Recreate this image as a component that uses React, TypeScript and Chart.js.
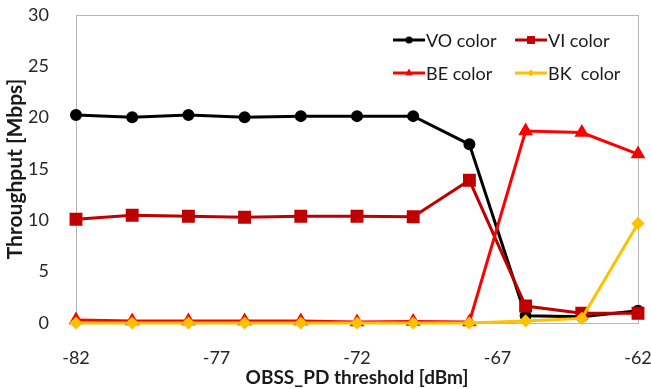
import React, { useEffect, useRef } from 'react';
import { Chart, registerables } from 'chart.js';

Chart.register(...registerables);

const thresholds = [-82, -80, -78, -76, -74, -72, -70, -68, -66, -64, -62];
const xTickValues = [-82, -77, -72, -67, -62];
const yTickStep = 5;
const voColor = [20.25, 20.05, 20.25, 20.05, 20.15, 20.15, 20.15, 17.4, 0.7, 0.6, 1.2];
const viColor = [10.1, 10.5, 10.4, 10.3, 10.4, 10.4, 10.35, 13.9, 1.65, 0.95, 0.95];
const beColor = [0.3, 0.2, 0.2, 0.2, 0.2, 0.1, 0.15, 0.1, 18.7, 18.55, 16.45];
const bkColor = [0, 0, 0, 0, 0, 0, 0, 0, 0.2, 0.45, 9.7];
const seriesNames = ['VO color', 'VI color', 'BE color', 'BK  color'];
const xTitle = 'OBSS_PD threshold [dBm]';
const yTitle = 'Throughput [Mbps]';

const FONT = "Lato, 'Open Sans', sans-serif";

function drawMarker(ctx: CanvasRenderingContext2D, style: string, x: number, y: number, r: number, color: string) {
  ctx.save();
  ctx.fillStyle = color;
  ctx.beginPath();
  if (style === 'circle') {
    ctx.arc(x, y, r, 0, Math.PI * 2);
  } else if (style === 'rect') {
    const s = Math.SQRT1_2 * r;
    ctx.rect(x - s, y - s, 2 * s, 2 * s);
  } else if (style === 'triangle') {
    let a = 0;
    ctx.moveTo(x + Math.sin(a) * r, y - Math.cos(a) * r);
    a += (2 * Math.PI) / 3;
    ctx.lineTo(x + Math.sin(a) * r, y - Math.cos(a) * r);
    a += (2 * Math.PI) / 3;
    ctx.lineTo(x + Math.sin(a) * r, y - Math.cos(a) * r);
  } else {
    ctx.moveTo(x - r, y);
    ctx.lineTo(x, y - r);
    ctx.lineTo(x + r, y);
    ctx.lineTo(x, y + r);
  }
  ctx.closePath();
  ctx.fill();
  ctx.restore();
}

const framePlugin = {
  id: 'frame',
  beforeDatasetsDraw(chart: any) {
    const { ctx, chartArea } = chart;
    ctx.save();
    ctx.strokeStyle = '#b7b7b7';
    ctx.lineWidth = 1;
    ctx.strokeRect(
      Math.round(chartArea.left) + 0.5,
      Math.round(chartArea.top) + 0.5,
      Math.round(chartArea.right - chartArea.left),
      Math.round(chartArea.bottom - chartArea.top)
    );
    ctx.restore();
  },
};

const legendPlugin = {
  id: 'insideLegend',
  afterDraw(chart: any) {
    const { ctx, chartArea } = chart;
    const colX = [chartArea.right - 245, chartArea.right - 123];
    const rowY = [chartArea.top + 25, chartArea.top + 58];
    ctx.save();
    ctx.font = `18px ${FONT}`;
    ctx.textBaseline = 'middle';
    ctx.textAlign = 'left';
    chart.data.datasets.forEach((ds: any, i: number) => {
      const x0 = colX[i % 2];
      const y = rowY[Math.floor(i / 2)];
      const lineLen = 32;
      ctx.strokeStyle = ds.borderColor;
      ctx.lineWidth = 3;
      ctx.beginPath();
      ctx.moveTo(x0, y);
      ctx.lineTo(x0 + lineLen, y);
      ctx.stroke();
      drawMarker(ctx, ds.pointStyle, x0 + lineLen / 2, y, ds.pointRadius * 0.8, ds.backgroundColor);
      ctx.fillStyle = '#1a1a1a';
      ctx.fillText(ds.label, x0 + lineLen + 1, y + 1);
    });
    ctx.restore();
  },
};

export default function App() {
  const canvasRef = useRef<HTMLCanvasElement | null>(null);

  useEffect(() => {
    if (!canvasRef.current) return;
    const mk = (data: number[]) => thresholds.map((x, i) => ({ x, y: data[i] }));
    const chart = new Chart(canvasRef.current, {
      type: 'line',
      data: {
        datasets: [
          {
            label: seriesNames[0],
            data: mk(voColor),
            borderColor: '#000000',
            backgroundColor: '#000000',
            pointStyle: 'circle',
            pointRadius: 4.5,
            borderWidth: 3,
            order: 4,
            clip: false,
          },
          {
            label: seriesNames[1],
            data: mk(viColor),
            borderColor: '#c00000',
            backgroundColor: '#c00000',
            pointStyle: 'rect',
            pointRadius: 7,
            borderWidth: 3,
            order: 3,
            clip: false,
          },
          {
            label: seriesNames[2],
            data: mk(beColor),
            borderColor: '#ff0000',
            backgroundColor: '#ff0000',
            pointStyle: 'triangle',
            pointRadius: 5.5,
            borderWidth: 3,
            order: 2,
            clip: false,
          },
          {
            label: seriesNames[3],
            data: mk(bkColor),
            borderColor: '#ffc000',
            backgroundColor: '#ffc000',
            pointStyle: 'rectRot',
            pointRadius: 4.5,
            borderWidth: 3,
            order: 1,
            clip: false,
          },
        ] as any,
      },
      options: {
        animation: false,
        responsive: true,
        maintainAspectRatio: false,
        layout: { padding: { top: 15, right: 13, left: 0, bottom: 0 } },
        elements: {
          line: { tension: 0 },
          point: { borderWidth: 0, hoverRadius: 5 },
        },
        plugins: {
          legend: { display: false },
          tooltip: { enabled: false },
        },
        scales: {
          x: {
            type: 'linear',
            min: -82,
            max: -62,
            grid: { display: false },
            border: { display: false },
            afterBuildTicks: (scale: any) => {
              scale.ticks = xTickValues.map((v) => ({ value: v }));
            },
            afterFit: (scale: any) => {
              scale.height = 66;
              scale.paddingLeft = 0;
              scale.paddingRight = 0;
            },
            ticks: {
              padding: 16,
              maxRotation: 0,
              autoSkip: false,
              color: '#262626',
              font: { family: FONT, size: 18 },
            },
            title: {
              display: true,
              text: xTitle,
              color: '#1a1a1a',
              font: { family: FONT, size: 19, weight: 'bold' },
              padding: { top: 0, bottom: 0 },
            },
          },
          y: {
            min: 0,
            max: 30,
            grid: { display: false },
            border: { display: false },
            afterFit: (scale: any) => {
              scale.width = 76;
              scale.paddingTop = 0;
              scale.paddingBottom = 0;
            },
            ticks: {
              stepSize: yTickStep,
              padding: 19,
              color: '#262626',
              font: { family: FONT, size: 18 },
            },
            title: {
              display: true,
              text: yTitle,
              color: '#1a1a1a',
              font: { family: FONT, size: 21, weight: 'bold' },
              padding: { top: 3, bottom: 0 },
            },
          },
        },
      } as any,
      plugins: [framePlugin, legendPlugin],
    });
    return () => chart.destroy();
  }, []);

  return (
    <div style={{ position: 'fixed', left: 0, top: 0, width: 651, height: 389, background: '#fff' }}>
      <canvas ref={canvasRef} />
    </div>
  );
}
